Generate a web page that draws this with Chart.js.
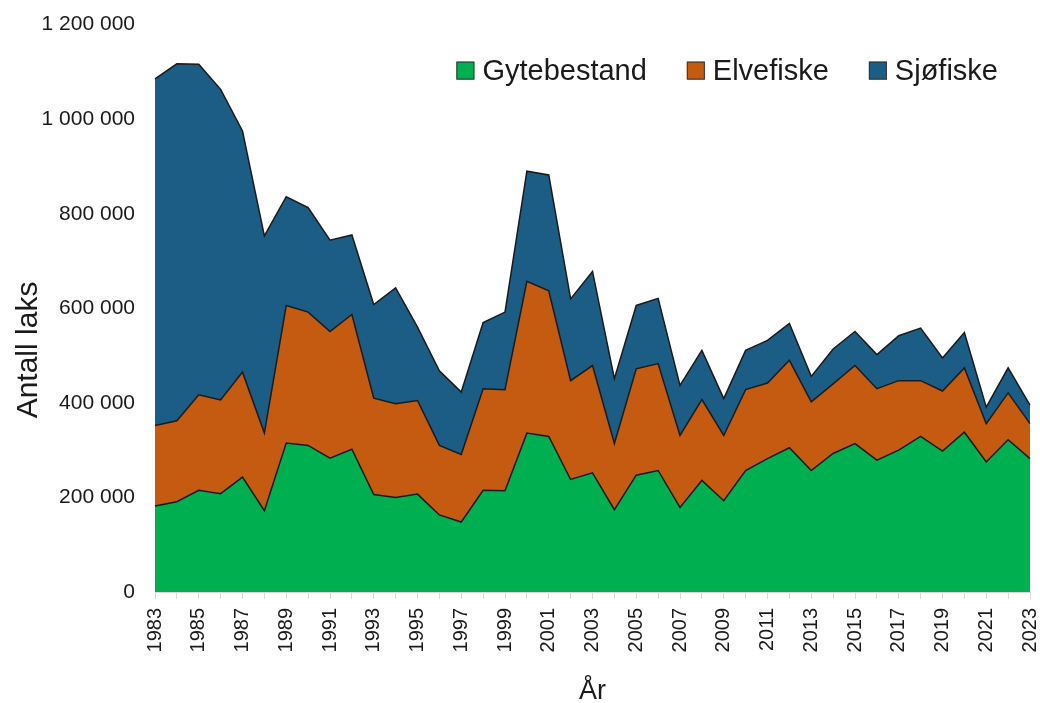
<!DOCTYPE html>
<html>
<head>
<meta charset="utf-8">
<script src="https://cdn.jsdelivr.net/npm/chart.js@4/dist/chart.umd.min.js"></script>
<style>
  html, body { margin: 0; padding: 0; background: #fff; }
  #wrap { width: 1040px; height: 703px; }
</style>
</head>
<body>
<div id="wrap"><canvas id="canvas"></canvas></div>
<script>
var years = [];
for (var y = 1983; y <= 2023; y++) years.push(String(y));

var gytebestand = [182000, 191000, 215000, 208000, 243000, 172000, 315000, 310000, 283000, 302000,
    206000, 200000, 207000, 163000, 148000, 215000, 214000, 336000, 329000, 238000,
    252000, 174000, 247000, 257000, 179000, 236000, 193000, 257000, 282000, 305000,
    257000, 293000, 314000, 279000, 300000, 329000, 298000, 338000, 275000, 322000, 282000];
var elvefiske = [170000, 171000, 202000, 198000, 222000, 164000, 291000, 282000, 268000, 285000,
    204000, 198000, 198000, 147000, 143000, 215000, 214000, 321000, 308000, 209000,
    227000, 140000, 225000, 226000, 152000, 171000, 138000, 171000, 160000, 185000,
    145000, 147000, 165000, 151000, 147000, 118000, 127000, 136000, 81000, 99000, 74000];
var sjofiske = [733000, 755000, 699000, 657000, 510000, 417000, 230000, 221000, 193000, 168000,
    198000, 245000, 155000, 158000, 132000, 140000, 164000, 233000, 245000, 173000,
    199000, 137000, 134000, 138000, 106000, 104000, 78000, 83000, 90000, 78000,
    54000, 74000, 72000, 72000, 95000, 111000, 70000, 75000, 35000, 53000, 39000];
var yTicks = [0, 200000, 400000, 600000, 800000, 1000000, 1200000];

var fmt = function(v) {
    return String(v).replace(/\B(?=(\d{3})+(?!\d))/g, ' ');
};

var area = function(label, data, color, fill) {
    return {
        label: label,
        data: data,
        backgroundColor: color,
        borderColor: '#1a1a1a',
        borderWidth: 1.5,
        pointRadius: 0,
        tension: 0,
        fill: fill
    };
};

// legend drawn inside the plot, top right
var insideLegend = {
    id: 'insideLegend',
    afterDraw: function(chart) {
        var ctx = chart.ctx;
        var box = 18, gap = 8, space = 40;
        ctx.save();
        ctx.font = '29px "Liberation Sans", Arial, sans-serif';
        ctx.textBaseline = 'middle';
        var items = chart.data.datasets;
        var total = space * (items.length - 1);
        items.forEach(function(ds) { total += box + gap + ctx.measureText(ds.label).width; });
        var x = chart.chartArea.right - 32 - total;
        var yc = chart.chartArea.top + 46;
        items.forEach(function(ds) {
            ctx.fillStyle = ds.backgroundColor;
            ctx.fillRect(x, yc - box / 2, box, box);
            ctx.strokeStyle = '#333';
            ctx.lineWidth = 1;
            ctx.strokeRect(x + 0.5, yc - box / 2 + 0.5, box - 1, box - 1);
            x += box + gap;
            ctx.fillStyle = '#1a1a1a';
            ctx.fillText(ds.label, x, yc + 1);
            x += ctx.measureText(ds.label).width + space;
        });
        ctx.restore();
    }
};

var config = {
    type: 'line',
    data: {
        labels: years,
        datasets: [
            area('Gytebestand', gytebestand, '#00b050', 'origin'),
            area('Elvefiske', elvefiske, '#c55a11', '-1'),
            area('Sjøfiske', sjofiske, '#1b5d85', '-1')
        ]
    },
    options: {
        responsive: true,
        maintainAspectRatio: false,
        animation: false,
        layout: { padding: { left: 11, right: 10, top: 12, bottom: 0 } },
        plugins: {
            tooltip: { enabled: false },
            legend: { display: false }
        },
        scales: {
            x: {
                afterFit: function(s) { s.height = 111; s.paddingRight = 0; s.paddingLeft = 0; },
                grid: { display: true, drawOnChartArea: false, tickLength: 7, color: '#d9d9d9' },
                border: { color: '#d9d9d9' },
                ticks: {
                    autoSkip: false,
                    maxRotation: 90,
                    minRotation: 90,
                    padding: 9,
                    color: '#1a1a1a',
                    font: { family: 'Liberation Sans, Arial, sans-serif', size: 20 },
                    callback: function(v, i) { return i % 2 === 0 ? this.getLabelForValue(v) : ''; }
                },
                title: {
                    display: true,
                    text: 'År',
                    color: '#1a1a1a',
                    font: { family: 'Liberation Sans Narrow, Liberation Sans, sans-serif', size: 27, lineHeight: 1 },
                    padding: { top: 0, bottom: -2 }
                }
            },
            y: {
                stacked: true,
                min: yTicks[0],
                max: yTicks[yTicks.length - 1],
                afterFit: function(s) { s.width = 144; },
                grid: { display: false },
                border: { display: false },
                ticks: {
                    stepSize: 200000,
                    padding: 12,
                    color: '#1a1a1a',
                    font: { family: 'Liberation Sans, Arial, sans-serif', size: 21 },
                    callback: function(v) { return fmt(v); }
                },
                title: {
                    display: true,
                    // trailing spaces push the title a little below the middle, as in the original
                    text: 'Antall laks' + '\u00a0'.repeat(10),
                    color: '#1a1a1a',
                    font: { family: 'Liberation Sans Narrow, Liberation Sans, sans-serif', size: 30 },
                    padding: { top: 0, bottom: 0 }
                }
            }
        }
    },
    plugins: [insideLegend]
};

window.onload = function() {
    window.myChart = new Chart(document.getElementById('canvas'), config);
};
</script>
</body>
</html>
